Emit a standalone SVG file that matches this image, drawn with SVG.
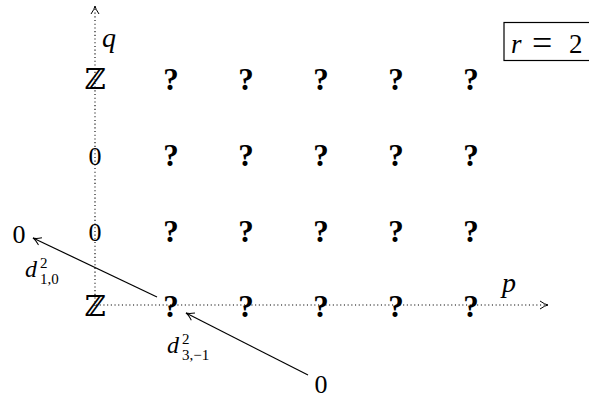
<svg xmlns="http://www.w3.org/2000/svg" width="589" height="399" viewBox="0 0 589 399">
<style>
text{font-family:"Liberation Serif","DejaVu Serif",serif;fill:#000}
.q{font-weight:bold;font-size:31px;text-anchor:middle}
.n{font-family:"Liberation Serif",serif;font-size:26px;text-anchor:middle}
.z{font-family:"DejaVu Serif","DejaVu Sans",serif;font-size:29px;text-anchor:middle}
.it{font-style:italic;font-size:28px}
.d{font-style:italic;font-size:24px}
.s{font-size:15px}
.ax{stroke:#000;stroke-width:1.1;stroke-dasharray:1.1 2.6;fill:none}
.ar{stroke:#000;stroke-width:1.2;fill:none}
</style>
<defs>
<marker id="hd" markerWidth="12" markerHeight="12" refX="0" refY="6" orient="auto" markerUnits="userSpaceOnUse" overflow="visible">
<path d="M-8,-4 Q-3,-0.5 0,0 Q-3,0.5 -8,4" transform="translate(0,6)" fill="none" stroke="#000" stroke-width="1"/>
</marker>
</defs>
<g id="connectors">
<line class="ax" x1="95" y1="306" x2="95" y2="6" marker-end="url(#hd)"/>
<line class="ax" x1="96" y1="305" x2="548" y2="305" marker-end="url(#hd)"/>
<line class="ar" x1="157" y1="297" x2="33" y2="238" marker-end="url(#hd)"/>
<line class="ar" x1="308" y1="375" x2="186" y2="313" marker-end="url(#hd)"/>
</g>
<g id="axis-labels">
<text class="it" x="102" y="47">q</text>
<text class="it" x="502" y="292">p</text>
</g>
<g id="r-box">
<rect x="504" y="22.5" width="90" height="38" fill="none" stroke="#000" stroke-width="1.2"/>
<text y="53" style="font-size:27px"><tspan x="511" font-style="italic">r</tspan><tspan x="532" font-size="36" dy="2">=</tspan><tspan x="569" dy="-2">2</tspan></text>
</g>
<g id="col0">
<text class="z" x="95" y="89">ℤ</text>
<text class="n" x="95" y="165">0</text>
<text class="n" x="95" y="241">0</text>
<text class="z" x="95" y="316">ℤ</text>
</g>
<g id="row3"><text class="q" x="171" y="90">?</text><text class="q" x="246" y="90">?</text><text class="q" x="321" y="90">?</text><text class="q" x="396" y="90">?</text><text class="q" x="471" y="90">?</text></g>
<g id="row2"><text class="q" x="171" y="166">?</text><text class="q" x="246" y="166">?</text><text class="q" x="321" y="166">?</text><text class="q" x="396" y="166">?</text><text class="q" x="471" y="166">?</text></g>
<g id="row1"><text class="q" x="171" y="242">?</text><text class="q" x="246" y="242">?</text><text class="q" x="321" y="242">?</text><text class="q" x="396" y="242">?</text><text class="q" x="471" y="242">?</text></g>
<g id="row0"><text class="q" x="171" y="317">?</text><text class="q" x="246" y="317">?</text><text class="q" x="321" y="317">?</text><text class="q" x="396" y="317">?</text><text class="q" x="471" y="317">?</text></g>
<g id="zero-left"><text class="n" x="19" y="243">0</text></g>
<g id="zero-bottom"><text class="n" x="321" y="393">0</text></g>
<g id="label-d10">
<text class="d" x="25" y="277">d</text>
<text class="s" x="40" y="268">2</text>
<text class="s" x="40" y="284">1,0</text>
</g>
<g id="label-d3m1">
<text class="d" x="167" y="353">d</text>
<text class="s" x="182" y="344">2</text>
<text class="s" x="182" y="360">3,−1</text>
</g>
</svg>
